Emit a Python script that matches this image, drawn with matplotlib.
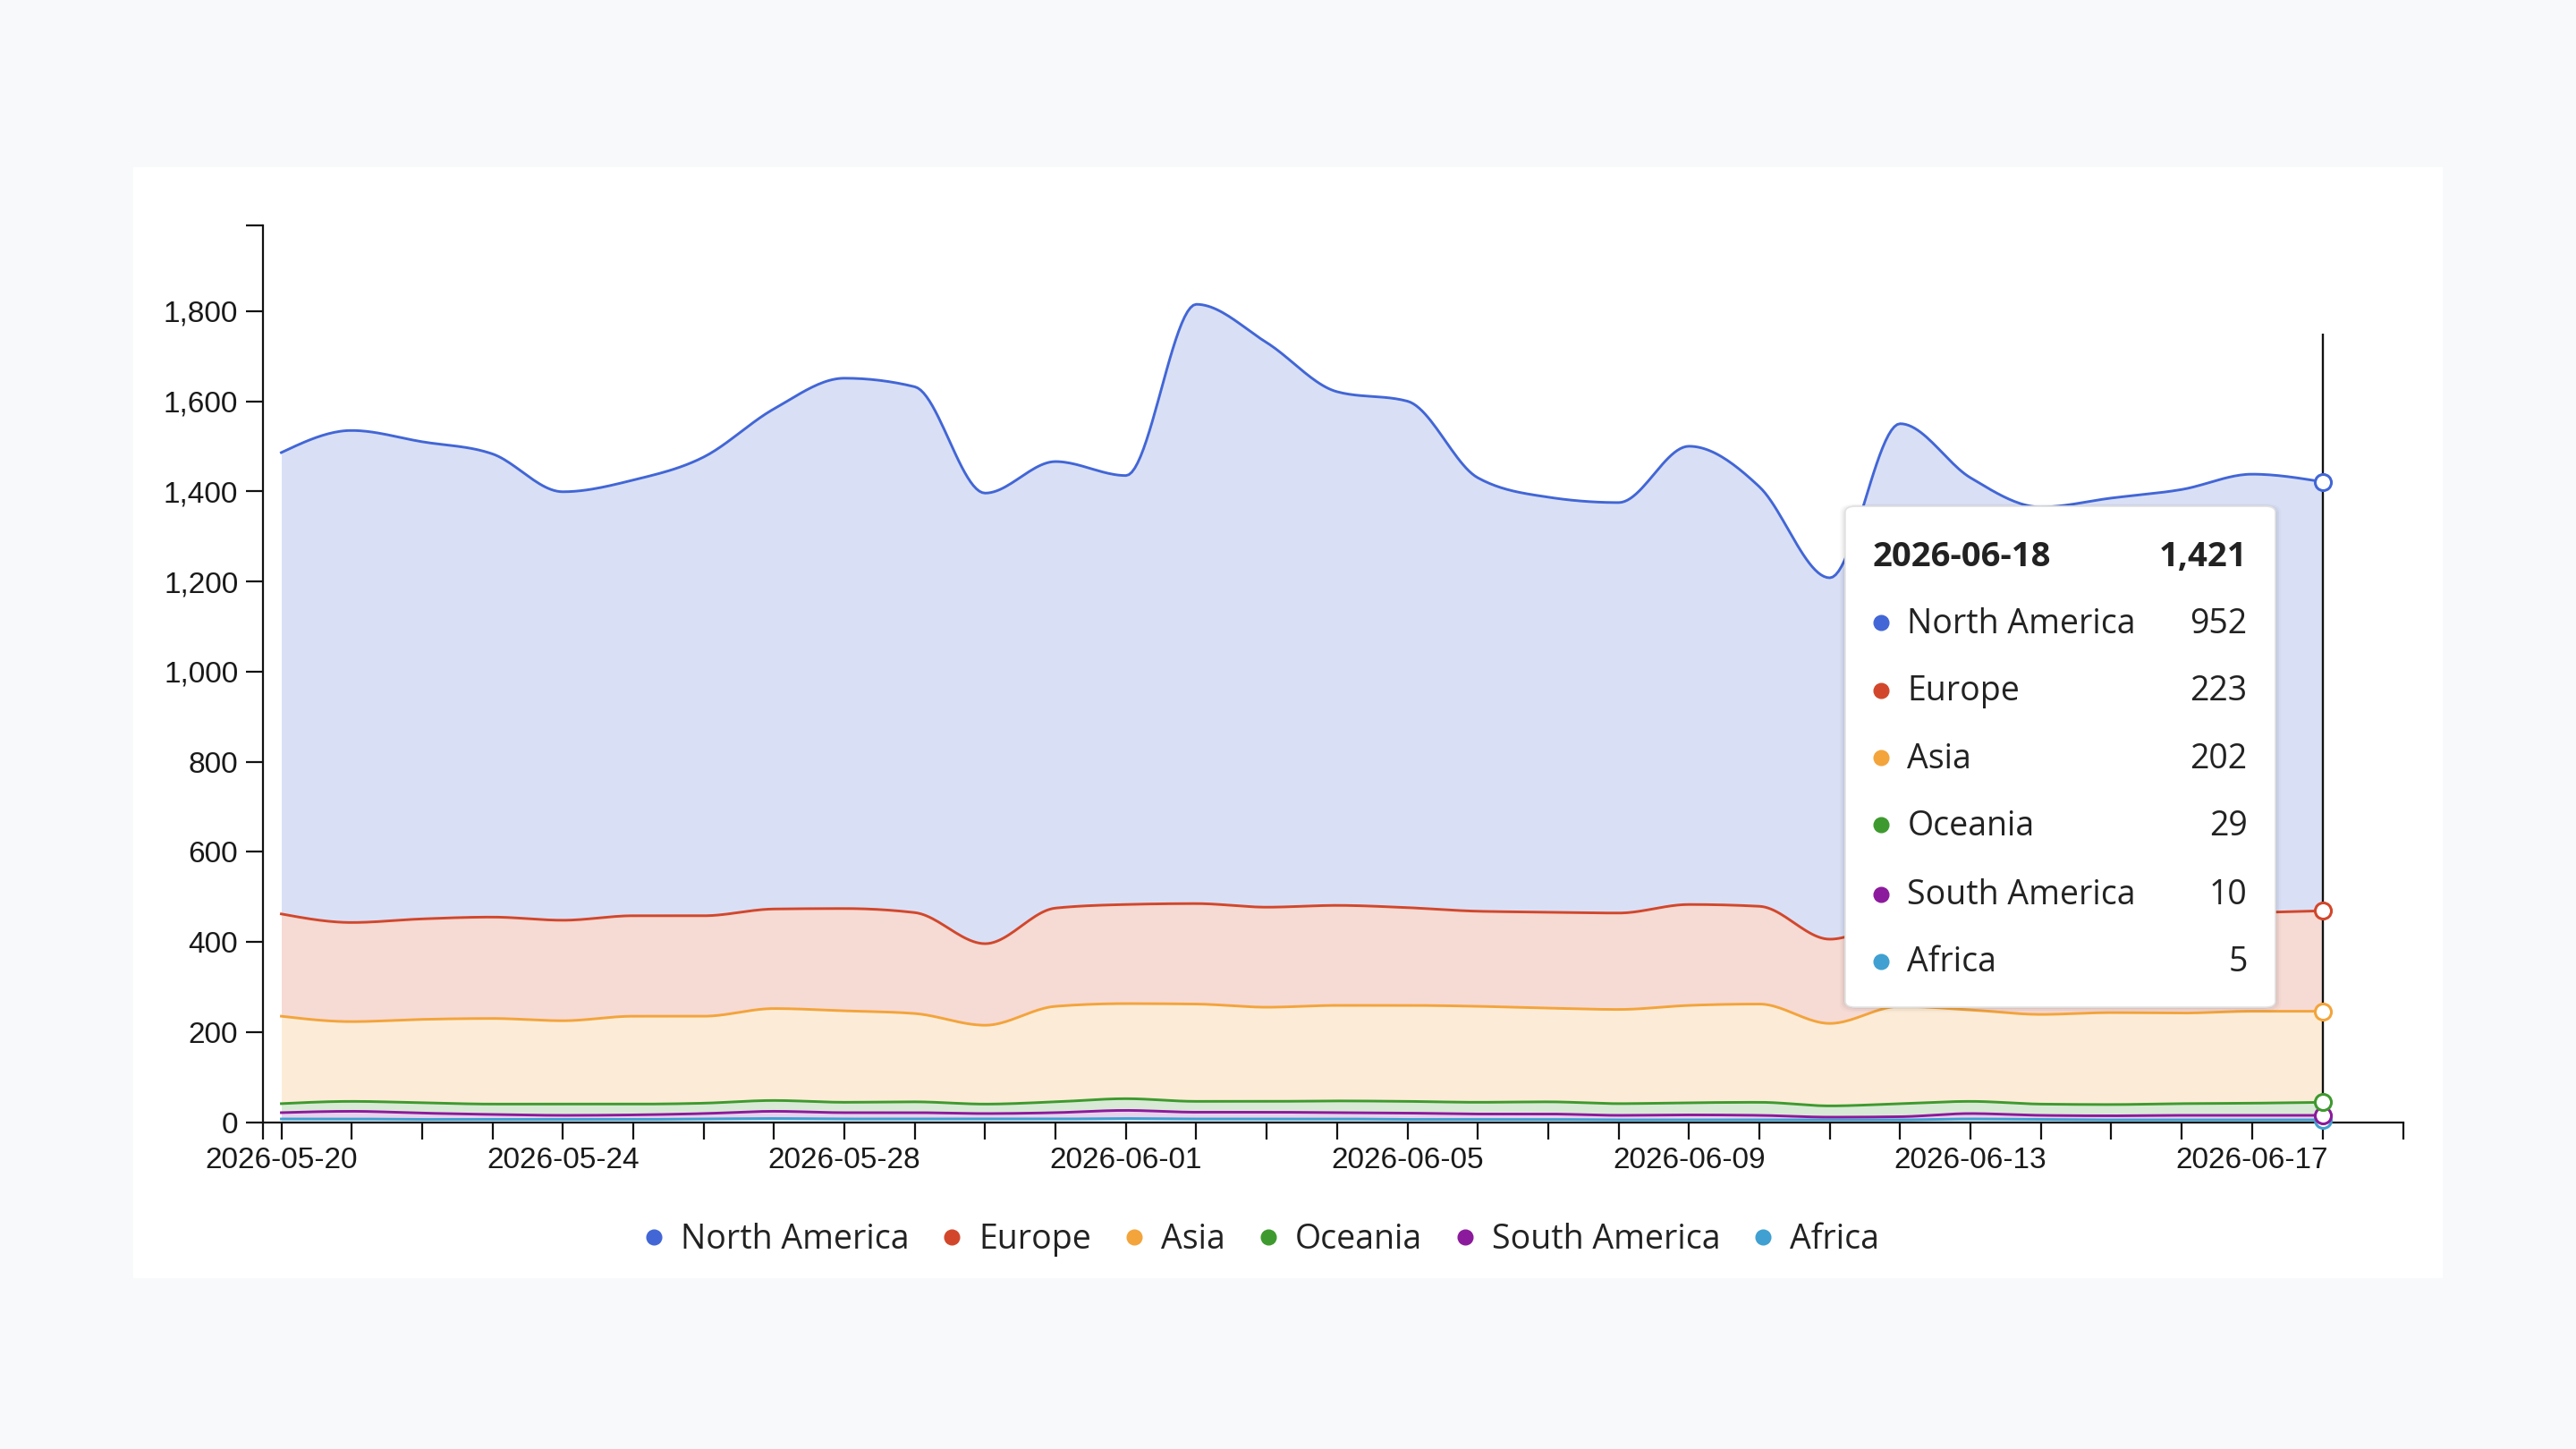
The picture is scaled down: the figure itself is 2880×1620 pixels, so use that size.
import numpy as np
import pandas as pd
import matplotlib
matplotlib.use('Agg')
import matplotlib.pyplot as plt
from matplotlib.lines import Line2D
from matplotlib.patches import FancyBboxPatch, Rectangle

# Daily visitors by region, 2026-05-20 .. 2026-06-18
dates = pd.date_range('2026-05-20', '2026-06-18', freq='D')
regions = ['North America', 'Europe', 'Asia', 'Oceania', 'South America', 'Africa']

north_america = [1024, 1092, 1059, 1028, 951, 967, 1018, 1110, 1177, 1167,
                 1000, 991, 952, 1330, 1253, 1140, 1124, 962, 921, 911,
                 1017, 931, 802, 1095, 960, 903, 920, 941, 973, 952]
europe = [227, 220, 223, 225, 223, 223, 223, 221, 227, 224,
          181, 218, 220, 223, 222, 222, 217, 211, 213, 214,
          224, 217, 187, 198, 221, 223, 222, 221, 219, 223]
asia = [194, 177, 185, 190, 185, 195, 193, 204, 203, 196,
        175, 212, 211, 216, 209, 212, 213, 213, 208, 209,
        216, 218, 183, 216, 203, 199, 204, 201, 204, 202]
oceania = [20, 22, 23, 23, 25, 24, 23, 24, 23, 24,
           21, 24, 26, 24, 24, 26, 26, 26, 27, 26,
           27, 29, 25, 29, 27, 25, 25, 26, 27, 29]
south_america = [14, 17, 14, 11, 9, 10, 12, 16, 14, 14,
                 12, 14, 18, 15, 15, 14, 14, 12, 12, 10,
                 11, 10, 6, 7, 12, 9, 9, 10, 10, 10]
africa = [7, 7, 6, 6, 6, 6, 7, 8, 7, 7,
          7, 7, 8, 7, 7, 7, 6, 6, 6, 5,
          5, 5, 5, 5, 7, 6, 5, 5, 5, 5]

colors = ['#4266d6', '#d2472b', '#f3a43b', '#3e9a2e', '#8c1a9c', '#3fa0d1']
yticks = [0, 200, 400, 600, 800, 1000, 1200, 1400, 1600, 1800]


def monotone(x, y, n=24):
    # monotone cubic (Steffen) like d3.curveMonotoneX
    x = np.asarray(x, float)
    y = np.asarray(y, float)
    h = np.diff(x)
    s = np.diff(y) / h
    t = np.zeros_like(y)
    for i in range(1, len(y) - 1):
        p = (s[i - 1] * h[i] + s[i] * h[i - 1]) / (h[i - 1] + h[i])
        t[i] = (np.sign(s[i - 1]) + np.sign(s[i])) * min(abs(s[i - 1]), abs(s[i]), 0.5 * abs(p))
    t[0] = (3 * s[0] - t[1]) / 2 if len(y) > 2 else s[0]
    t[-1] = (3 * s[-1] - t[-2]) / 2 if len(y) > 2 else s[-1]
    xs, ys = [], []
    for i in range(len(y) - 1):
        u = np.linspace(0, 1, n, endpoint=False)
        h00 = 2 * u**3 - 3 * u**2 + 1
        h10 = u**3 - 2 * u**2 + u
        h01 = -2 * u**3 + 3 * u**2
        h11 = u**3 - u**2
        xs.append(x[i] + u * h[i])
        ys.append(h00 * y[i] + h10 * h[i] * t[i] + h01 * y[i + 1] + h11 * h[i] * t[i + 1])
    xs.append([x[-1]])
    ys.append([y[-1]])
    return np.concatenate(xs), np.concatenate(ys)


plt.rcParams['font.family'] = ['Liberation Sans', 'DejaVu Sans']

fig = plt.figure(figsize=(28.8, 16.2), dpi=100)
fig.patch.set_facecolor('#f8f9fb')
fig.add_artist(Rectangle((0.0517, 0.118), 0.8965, 0.7667, transform=fig.transFigure,
                         facecolor='white', edgecolor='none', zorder=0))

ax = fig.add_axes([0.1021, 0.2256, 0.8309, 0.6188])
ax.patch.set_alpha(0)

x = np.arange(len(dates))
series = [north_america, europe, asia, oceania, south_america, africa]

# stack from the bottom: Africa first, North America on top
stack_order = list(range(len(regions)))[::-1]
base = np.zeros(len(x))
tops = {}
for k in stack_order:
    top = base + np.array(series[k])
    xs, lo = monotone(x, base)
    _, hi = monotone(x, top)
    ax.fill_between(xs, lo, hi, color=colors[k], alpha=0.2, linewidth=0, zorder=1)
    ax.plot(xs, hi, color=colors[k], lw=2.1, zorder=2)
    tops[k] = top
    base = top

ax.set_xlim(-0.26, 30.15)
ax.set_ylim(0, 1990)

for side in ['top', 'right']:
    ax.spines[side].set_visible(False)
for side in ['left', 'bottom']:
    ax.spines[side].set_linewidth(1.6)
    ax.spines[side].set_color('#111111')

ax.set_yticks(yticks)
ax.set_yticklabels([f'{v:,}' for v in yticks])
ax.set_yticks([1990], minor=True)

ax.set_xticks(x[::4])
ax.set_xticklabels([d.strftime('%Y-%m-%d') for d in dates[::4]])
ax.set_xticks([v for v in x if v % 4 != 0] + [-0.26, 30.15], minor=True)

ax.tick_params(which='both', length=14, width=1.6, color='#111111', direction='out')
ax.tick_params(axis='both', which='major', labelsize=24, labelcolor='#1a1a1a', pad=6)

# hover crosshair at the last day
ax.vlines(x[-1], 0, 1750, color='#111111', lw=1.7, zorder=4)
for k in stack_order:
    ax.plot(x[-1], tops[k][-1], 'o', mfc='white', mec=colors[k], ms=13, mew=2.2,
            zorder=6, clip_on=False)

# tooltip with a soft shadow
for i, a in enumerate([0.05, 0.035, 0.02]):
    d = 0.0012 * (i + 1)
    fig.add_artist(FancyBboxPatch((0.7163 - d * 0.6, 0.3049 - d), 0.167 + d * 1.2, 0.3457 + d * 1.5,
                                  transform=fig.transFigure,
                                  boxstyle='round,pad=0,rounding_size=0.006',
                                  facecolor='black', alpha=a, edgecolor='none', zorder=9))
tip = FancyBboxPatch((0.7163, 0.3049), 0.167, 0.3457, transform=fig.transFigure,
                     boxstyle='round,pad=0,rounding_size=0.004', facecolor='white',
                     edgecolor='#e2e2e2', lw=1.2, zorder=10)
fig.add_artist(tip)
tfont = dict(family=['Open Sans', 'DejaVu Sans'], color='#222222', zorder=11)
last = len(x) - 1
total = sum(s[last] for s in series)
fig.text(0.727, 0.6156, dates[-1].strftime('%Y-%m-%d'), fontsize=27.5, fontweight='bold',
         va='center', ha='left', **tfont)
fig.text(0.8724, 0.6156, f'{total:,}', fontsize=27.5, fontweight='bold',
         va='center', ha='right', **tfont)
row_y = [0.5693, 0.5226, 0.4761, 0.4297, 0.3820, 0.3356]
for k, name in enumerate(regions):
    fig.add_artist(Line2D([0.7302], [row_y[k] + 0.001], marker='o', ms=12, color=colors[k],
                          transform=fig.transFigure, zorder=11))
    fig.text(0.7404, row_y[k], name, fontsize=27, va='center', ha='left', **tfont)
    fig.text(0.8724, row_y[k], f'{series[k][last]:,}', fontsize=27, va='center',
             ha='right', **tfont)

# legend below the chart
handles = [Line2D([], [], marker='o', ls='', ms=12, color=c) for c in colors]
leg = fig.legend(handles, regions, loc='center', bbox_to_anchor=(0.49, 0.1445), ncol=6,
                 frameon=False, handlelength=0.5, handletextpad=0.55, columnspacing=1.03,
                 prop={'family': ['Open Sans', 'DejaVu Sans'], 'size': 27})
for t in leg.get_texts():
    t.set_color('#222222')

fig.savefig('out.png', dpi=100, facecolor=fig.get_facecolor())
